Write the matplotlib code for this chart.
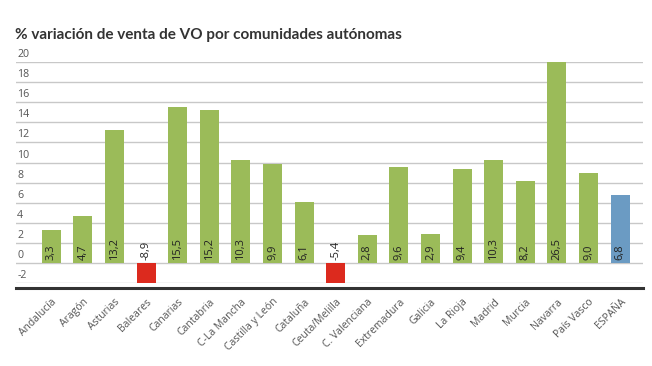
import numpy as np
import matplotlib
matplotlib.use("Agg")
import matplotlib.pyplot as plt
import matplotlib.transforms as mtransforms

regiones = ["Andalucía", "Aragón", "Asturias", "Baleares", "Canarias", "Cantabria",
            "C-La Mancha", "Castilla y León", "Cataluña", "Ceuta/Melilla",
            "C. Valenciana", "Extremadura", "Galicia", "La Rioja", "Madrid",
            "Murcia", "Navarra", "País Vasco", "ESPAÑA"]
variacion = [3.3, 4.7, 13.2, -8.9, 15.5, 15.2, 10.3, 9.9, 6.1, -5.4,
             2.8, 9.6, 2.9, 9.4, 10.3, 8.2, 26.5, 9.0, 6.8]
yticks = [-2, 0, 2, 4, 6, 8, 10, 12, 14, 16, 18, 20]

plt.rcParams['font.family'] = ['Open Sans', 'DejaVu Sans']

verde = '#9bbb59'
rojo = '#dc2a1e'
azul = '#6b9bc3'
colores = []
for r, v in zip(regiones, variacion):
    if r == "ESPAÑA":
        colores.append(azul)
    elif v < 0:
        colores.append(rojo)
    else:
        colores.append(verde)

fig = plt.figure(figsize=(6.52, 3.66), dpi=100)
ax = fig.add_axes([0.0245, 0.226, 0.9615, 0.6046])

x = np.arange(len(regiones))
ax.bar(x, variacion, width=0.6, color=colores, zorder=2)

ax.set_xlim(-1.12, 18.72)
ax.set_ylim(-2, 20)

# horizontal grid
for t in yticks:
    ax.axhline(t, color='#c8c8c8', lw=1, zorder=1)
ax.set_yticks([])

# y labels sitting above grid lines
trans = mtransforms.blended_transform_factory(ax.transAxes, ax.transData)
for t in yticks:
    ax.text(0.002, t + 0.2, str(t), transform=trans, ha='left', va='bottom',
            fontsize=7.7, color='#555555', clip_on=False)

# value labels
for xi, v in zip(x, variacion):
    ax.text(xi, 0.35, f"{v:.1f}".replace('.', ','), rotation=90, ha='center',
            va='bottom', fontsize=8, color='#222222', zorder=3)

for s in ['top', 'right', 'left']:
    ax.spines[s].set_visible(False)
ax.spines['bottom'].set_position(('outward', 3.5))
ax.spines['bottom'].set_linewidth(2.2)
ax.spines['bottom'].set_color('#333333')

ax.set_xticks(x)
ax.set_xticklabels(regiones, rotation=45, ha='right', rotation_mode='anchor',
                   fontsize=7.5, color='#555555')
ax.tick_params(axis='x', length=0, pad=6)

fig.text(0.023, 0.905, "% variación de venta de VO por comunidades autónomas",
         fontsize=11, fontweight='bold', color='#333333', ha='left', va='center',
         family=['Lato', 'DejaVu Sans'])

fig.savefig("out.png", dpi=100, facecolor='white')
